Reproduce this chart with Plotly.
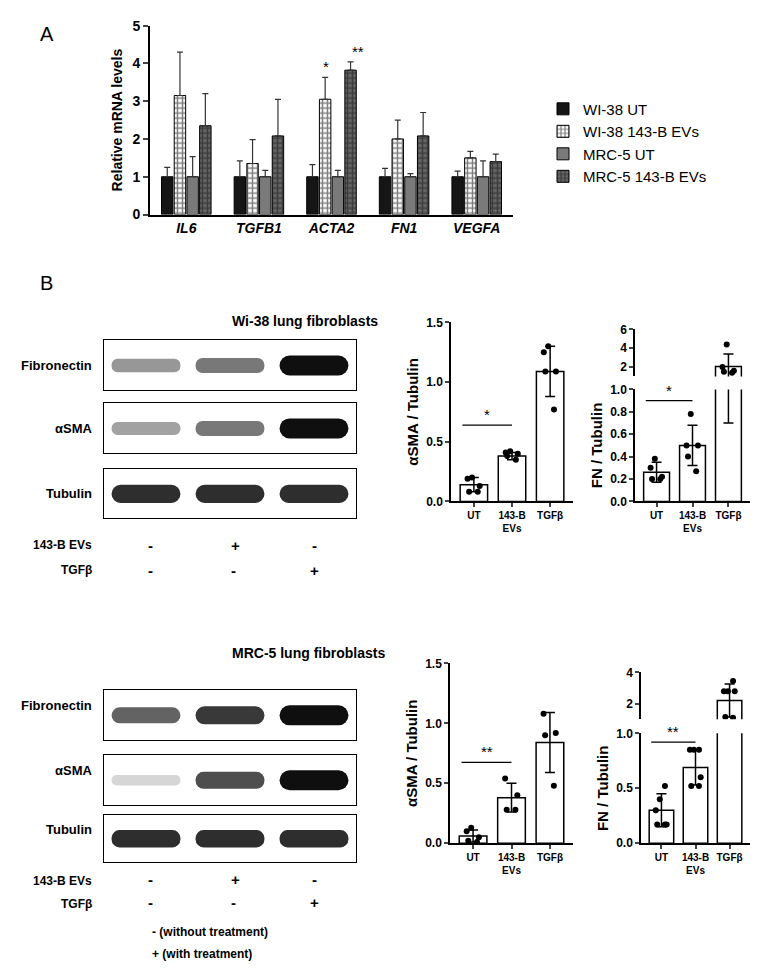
import plotly.graph_objects as go

W, H = 768, 976
def px(x): return x / W
def py(y): return 1 - ((y - 15.4) / 0.984) / H

# ---------- Panel A data ----------
genes = ["IL6", "TGFB1", "ACTA2", "FN1", "VEGFA"]
wi38_ut = [1, 1, 1, 1, 1]
wi38_ut_err = [0.25, 0.42, 0.32, 0.22, 0.15]
wi38_ev = [3.15, 1.35, 3.05, 2.0, 1.5]
wi38_ev_err = [1.15, 0.63, 0.58, 0.5, 0.17]
mrc5_ut = [1, 1, 1, 1, 1]
mrc5_ut_err = [0.53, 0.17, 0.17, 0.08, 0.42]
mrc5_ev = [2.35, 2.08, 3.82, 2.08, 1.4]
mrc5_ev_err = [0.85, 0.97, 0.22, 0.62, 0.2]

# ---------- Panel B data ----------
cats = ["UT", "143-B<br>EVs", "TGFβ"]
wi_sma_mean = [0.14, 0.38, 1.09]
wi_sma_sd = [0.06, 0.03, 0.21]
wi_sma_pts = [[0.20, 0.19, 0.13, 0.08, 0.08], [0.41, 0.42, 0.40, 0.38, 0.35], [1.30, 1.25, 1.09, 1.09, 0.77]]
wi_fn_mean = [0.26, 0.50, 2.05]
wi_fn_sd = [0.09, 0.18, 1.35]
wi_fn_pts = [[0.38, 0.30, 0.22, 0.20, 0.20], [0.78, 0.50, 0.50, 0.40, 0.27], [4.4, 2.0, 1.6, 1.5, 1.4]]
mrc_sma_mean = [0.06, 0.38, 0.84]
mrc_sma_sd = [0.05, 0.12, 0.25]
mrc_sma_pts = [[0.13, 0.10, 0.05, 0.02, 0.01], [0.54, 0.40, 0.28, 0.28], [1.08, 0.92, 0.90, 0.48]]
mrc_fn_mean = [0.30, 0.69, 2.2]
mrc_fn_sd = [0.15, 0.16, 1.05]
mrc_fn_pts = [[0.52, 0.40, 0.30, 0.17, 0.17, 0.17], [0.85, 0.85, 0.85, 0.60, 0.52, 0.52], [3.45, 2.8, 2.8, 2.8, 1.15, 1.1]]

blot_rows = ["Fibronectin", "αSMA", "Tubulin"]
wi_bands = [[0.35, 0.5, 1.0], [0.3, 0.5, 1.0], [0.85, 0.85, 0.85]]
mrc_bands = [[0.6, 0.8, 1.0], [0.05, 0.7, 1.0], [0.85, 0.85, 0.85]]
ev_signs = ["-", "+", "-"]
tgf_signs = ["-", "-", "+"]

fig = go.Figure()
FONT = "Liberation Sans, Arial"
layout = dict(width=W, height=H, margin=dict(l=0, r=0, t=0, b=0),
              paper_bgcolor="white", plot_bgcolor="white", showlegend=True,
              barmode="group", bargap=0.3, bargroupgap=0.1,
              font=dict(family=FONT, color="black"))
annots = []

def axes(i, xd, yd, xkw=None, ykw=None):
    xn = "xaxis" if i == 1 else f"xaxis{i}"
    yn = "yaxis" if i == 1 else f"yaxis{i}"
    xa = dict(domain=[px(xd[0]), px(xd[1])], anchor="y" if i == 1 else f"y{i}")
    ya = dict(domain=[py(yd[1]), py(yd[0])], anchor="x" if i == 1 else f"x{i}")
    if xkw: xa.update(xkw)
    if ykw: ya.update(ykw)
    layout[xn] = xa
    layout[yn] = ya

def ref(i):
    return ("x", "y") if i == 1 else (f"x{i}", f"y{i}")

# ---------- Panel A ----------
axes(1, (142, 505), (25, 214),
     dict(showline=True, linecolor="black", linewidth=2, ticks="", showgrid=False,
          tickfont=dict(size=14, family=FONT, style="italic", weight="bold")),
     dict(range=[0, 5], showline=True, linecolor="black", linewidth=2, ticks="outside",
          tickwidth=2, ticklen=5, showgrid=False, zeroline=False, dtick=1,
          tickfont=dict(size=14, weight="bold"),
          title=dict(text="Relative mRNA levels", font=dict(size=14, weight="bold"), standoff=6)))
series = [
    ("WI-38 UT", wi38_ut, wi38_ut_err, "#151515", dict()),
    ("WI-38 143-B EVs", wi38_ev, wi38_ev_err, "white", dict(shape="+", fgcolor="black", bgcolor="white", size=5, solidity=0.5)),
    ("MRC-5 UT", mrc5_ut, mrc5_ut_err, "#7a7a7a", dict()),
    ("MRC-5 143-B EVs", mrc5_ev, mrc5_ev_err, "#555555", dict(shape="+", fgcolor="#111111", bgcolor="#666666", size=5, solidity=0.5)),
]
for name, v, e, c, pat in series:
    fig.add_trace(go.Bar(x=genes, y=v, name=name, marker=dict(color=c, line=dict(color="black", width=1), pattern=pat),
                         error_y=dict(type="data", array=e, arrayminus=[0]*5, symmetric=False, color="#333", thickness=1.2, width=3),
                         xaxis="x", yaxis="y"))
layout["legend"] = dict(x=px(535), y=py(92), xanchor="left", yanchor="top", font=dict(size=15),
                        tracegroupgap=0, itemwidth=30, bgcolor="rgba(0,0,0,0)")
annots.append(dict(x="ACTA2", y=wi38_ev[2] + wi38_ev_err[2], xshift=-6, text="*", showarrow=False, yanchor="bottom", xref="x", yref="y", font=dict(size=15)))
annots.append(dict(x="ACTA2", y=mrc5_ev[2] + mrc5_ev_err[2], xshift=26, text="**", showarrow=False, yanchor="bottom", xref="x", yref="y", font=dict(size=15)))

# ---------- small bar charts ----------
def small(i, mean, sd, pts, ylo, yhi, ydom, xd, ticks, ticktext, show_x=True, title=None, keep=(0, 1, 2)):
    xr, yr = ref(i)
    fig.add_trace(go.Bar(x=list(keep), y=[mean[k] for k in keep], width=0.72,
                         marker=dict(color="white", line=dict(color="black", width=1.5)),
                         error_y=dict(type="data", array=[sd[k] for k in keep], color="black", thickness=1.5, width=5),
                         xaxis=xr, yaxis=yr, showlegend=False, offsetgroup=f"s{i}"))
    for k in keep:
        p = pts[k]
        fig.add_trace(go.Box(x=[k]*len(p), y=p, boxpoints="all", jitter=0.8, pointpos=0,
                             marker=dict(color="black", size=6), line=dict(width=0, color="rgba(0,0,0,0)"),
                             fillcolor="rgba(0,0,0,0)", xaxis=xr, yaxis=yr, showlegend=False, hoverinfo="y"))
    axes(i, xd, ydom,
         dict(range=[-0.6, 2.6], showline=show_x, linecolor="black", linewidth=1.5, tickvals=[0, 1, 2],
              ticktext=cats, ticks="outside" if show_x else "", ticklen=4, tickwidth=1.5,
              showgrid=False, zeroline=False, tickfont=dict(size=10, weight="bold"), showticklabels=show_x),
         dict(range=[ylo, yhi], showline=True, linecolor="black", linewidth=1.5, tickvals=ticks, ticktext=ticktext,
              ticks="outside", ticklen=4, tickwidth=1.5, showgrid=False, zeroline=False,
              tickfont=dict(size=12, weight="bold"),
              title=dict(text=title, font=dict(size=15, weight="bold"), standoff=4) if title else None))

def sig(i, x0, x1, y, text):
    xr, yr = ref(i)
    fig.add_trace(go.Scatter(x=[x0, x1], y=[y, y], mode="lines", line=dict(color="black", width=1.2),
                             xaxis=xr, yaxis=yr, showlegend=False, hoverinfo="skip"))
    annots.append(dict(x=(x0 + x1) / 2, y=y, text=text, showarrow=False, yanchor="bottom", xref=xr, yref=yr, font=dict(size=15)))

small(2, wi_sma_mean, wi_sma_sd, wi_sma_pts, 0, 1.5, (322, 501), (443, 565), [0, 0.5, 1, 1.5], ["0.0", "0.5", "1.0", "1.5"], title="αSMA / Tubulin")
sig(2, -0.3, 1.0, 0.64, "*")
small(3, wi_fn_mean, wi_fn_sd, wi_fn_pts, 0, 1.0, (389, 501), (627, 742), [0, 0.2, 0.4, 0.6, 0.8, 1.0],
      ["0.0", "0.2", "0.4", "0.6", "0.8", "1.0"], title="FN / Tubulin")
sig(3, -0.3, 1.0, 0.9, "*")
small(4, wi_fn_mean, wi_fn_sd, wi_fn_pts, 1, 6, (329, 376), (627, 742), [2, 4, 6], ["2", "4", "6"], show_x=False, keep=(2,))
small(5, mrc_sma_mean, mrc_sma_sd, mrc_sma_pts, 0, 1.5, (663, 843), (442, 565), [0, 0.5, 1, 1.5], ["0.0", "0.5", "1.0", "1.5"], title="αSMA / Tubulin")
sig(5, -0.3, 1.0, 0.675, "**")
small(6, mrc_fn_mean, mrc_fn_sd, mrc_fn_pts, 0, 1.0, (733, 843), (633, 742), [0, 0.5, 1.0], ["0.0", "0.5", "1.0"], title="FN / Tubulin")
sig(6, -0.3, 1.0, 0.92, "**")
small(7, mrc_fn_mean, mrc_fn_sd, mrc_fn_pts, 1, 4, (672, 719), (633, 742), [2, 4], ["2", "4"], show_x=False, keep=(2,))

# ---------- blots ----------
def blot(i, bands_row, ydom, label):
    xr, yr = ref(i)
    cols = [f"rgb({int(225 - 210*b)},{int(225 - 210*b)},{int(225 - 210*b)})" for b in bands_row]
    fig.add_trace(go.Bar(x=[0, 1, 2], y=[0.2 + 0.2*b for b in bands_row], base=[0.5 - (0.1 + 0.1*b) for b in bands_row],
                         width=0.82, marker=dict(color=cols, line=dict(width=0), cornerradius="45%"), xaxis=xr, yaxis=yr,
                         showlegend=False, offsetgroup=f"b{i}", hoverinfo="skip"))
    axes(i, (96, 348), ydom,
         dict(range=[-0.5, 2.5], showticklabels=False, ticks="", showgrid=False, zeroline=False,
              showline=True, mirror=True, linecolor="black", linewidth=1.2),
         dict(range=[0, 1], showticklabels=False, ticks="", showgrid=False, zeroline=False,
              showline=True, mirror=True, linecolor="black", linewidth=1.2))
    layout[f"yaxis{i}"]["showline"] = True
    layout[f"xaxis{i}"]["showline"] = True
    annots.append(dict(x=px(86), y=py((ydom[0] + ydom[1]) / 2), xref="paper", yref="paper", xanchor="right",
                       text=f"<b>{label}</b>", showarrow=False, font=dict(size=13)))

idx = 8
for bands, tops, title, ty, rowy in [
        (wi_bands, [(340, 390), (403, 453), (469, 518)], "Wi-38 lung fibroblasts", 311, (545, 570)),
        (mrc_bands, [(690, 740), (755, 805), (815, 862)], "MRC-5 lung fibroblasts", 663, (890, 913))]:
    for r, (lab, yd) in enumerate(zip(blot_rows, tops)):
        blot(idx, bands[r], yd, lab)
        layout[f"plot_bgcolor"] = "white"
        idx += 1
    annots.append(dict(x=px(222), y=py(ty), xref="paper", yref="paper", text=f"<b>{title}</b>", showarrow=False, font=dict(size=14)))
    annots.append(dict(x=px(86), y=py(rowy[0]), xref="paper", yref="paper", xanchor="right", text="<b>143-B EVs</b>", showarrow=False, font=dict(size=12)))
    annots.append(dict(x=px(86), y=py(rowy[1]), xref="paper", yref="paper", xanchor="right", text="<b>TGFβ</b>", showarrow=False, font=dict(size=12)))
    for k, lx in enumerate([138, 221, 306]):
        annots.append(dict(x=px(lx), y=py(rowy[0]), xref="paper", yref="paper", text=f"<b>{ev_signs[k]}</b>", showarrow=False, font=dict(size=15)))
        annots.append(dict(x=px(lx), y=py(rowy[1]), xref="paper", yref="paper", text=f"<b>{tgf_signs[k]}</b>", showarrow=False, font=dict(size=15)))

annots.append(dict(x=px(142), y=py(941), xref="paper", yref="paper", xanchor="left", text="<b>- (without treatment)</b>", showarrow=False, font=dict(size=12)))
annots.append(dict(x=px(142), y=py(963), xref="paper", yref="paper", xanchor="left", text="<b>+ (with treatment)</b>", showarrow=False, font=dict(size=12)))
annots.append(dict(x=px(30), y=py(20), xref="paper", yref="paper", text="A", showarrow=False, font=dict(size=20)))
annots.append(dict(x=px(30), y=py(270), xref="paper", yref="paper", text="B", showarrow=False, font=dict(size=20)))

layout["annotations"] = annots
fig.update_layout(**layout)
fig.write_html("out.html")
